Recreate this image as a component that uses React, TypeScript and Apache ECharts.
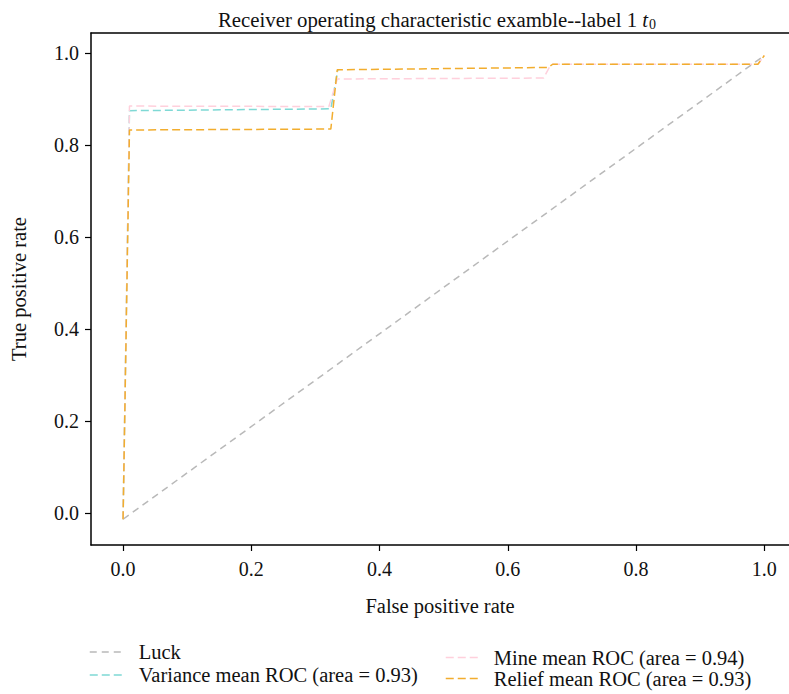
import React, { useEffect, useRef } from "react";
import * as echarts from "echarts";

const luckX = [0, 1];
const luckY = [-0.014, 0.995];
const varianceX = [0, 0.01, 0.324, 0.335];
const varianceY = [-0.014, 0.875, 0.879, 0.964];
const mineX = [0, 0.01, 0.321, 0.334, 0.656, 0.665, 0.67, 0.99, 1.0];
const mineY = [-0.014, 0.885, 0.884, 0.944, 0.946, 0.97, 0.976, 0.976, 0.995];
const reliefX = [0, 0.01, 0.324, 0.334, 0.663, 0.67, 0.99, 1.0];
const reliefY = [-0.014, 0.833, 0.835, 0.964, 0.969, 0.976, 0.976, 0.995];
const xTicks = [0, 0.2, 0.4, 0.6, 0.8, 1.0];
const yTicks = [0, 0.2, 0.4, 0.6, 0.8, 1.0];

const FONT = "Liberation Serif";

const zip = (xs: number[], ys: number[]) => xs.map((x, i) => [x, ys[i]]);

export default function App() {
  const ref = useRef<HTMLDivElement>(null);
  useEffect(() => {
    if (!ref.current) return;
    const chart = echarts.init(ref.current, null, { renderer: "svg" });
    const mk = (name: string, xs: number[], ys: number[], color: string, dash: number[]) => ({
      name,
      type: "line",
      data: zip(xs, ys),
      showSymbol: false,
      symbol: "none",
      lineStyle: { color, width: 1.5, type: dash },
      itemStyle: { color },
      z: 2,
    });
    const legendCommon = {
      orient: "vertical",
      padding: 0,
      height: 60,
      itemWidth: 34,
      itemHeight: 14,
      itemStyle: { opacity: 0, borderWidth: 0 },
      lineStyle: { width: 1.5 },
    };
    chart.setOption({
      animation: false,
      backgroundColor: "#ffffff",
      textStyle: { fontFamily: FONT },
      title: {
        text: "{a|Receiver operating characteristic examble--label 1 }{i|t}{s|0}",
        left: 432,
        textAlign: "center",
        top: 3,
        textStyle: {
          fontWeight: "normal",
          rich: {
            a: { fontFamily: FONT, fontSize: 20.8, fontWeight: "normal", color: "#111" },
            i: { fontFamily: FONT, fontSize: 20.8, fontStyle: "italic", fontWeight: "normal", color: "#111" },
            s: { fontFamily: FONT, fontSize: 14, fontWeight: "normal", color: "#111", padding: [9, 0, 0, 1] },
          },
        },
      },
      grid: { left: 90, right: 0, top: 33, bottom: 149, show: false },
      xAxis: [
        {
          type: "value",
          min: -0.05,
          max: 1.0385,
          name: "False positive rate",
          nameLocation: "middle",
          nameGap: 50,
          nameTextStyle: { fontFamily: FONT, fontSize: 20.5, color: "#111" },
          axisLine: { show: true, onZero: false, lineStyle: { color: "#000", width: 1.5 } },
          axisTick: { show: true, inside: false, length: 6, customValues: xTicks, lineStyle: { color: "#000", width: 1.2 } },
          axisLabel: {
            customValues: xTicks,
            formatter: (v: number) => v.toFixed(1),
            fontFamily: FONT,
            fontSize: 20,
            color: "#111",
            margin: 14,
          },
          splitLine: { show: false },
        },
        {
          type: "value",
          position: "top",
          min: -0.05,
          max: 1.0385,
          axisLine: { show: true, onZero: false, lineStyle: { color: "#000", width: 1.5 } },
          axisTick: { show: false },
          axisLabel: { show: false },
          splitLine: { show: false },
        },
      ],
      yAxis: {
        type: "value",
        min: -0.07,
        max: 1.044,
        name: "True positive rate",
        nameLocation: "middle",
        nameGap: 62,
        nameTextStyle: { fontFamily: FONT, fontSize: 20.5, color: "#111" },
        axisLine: { show: true, onZero: false, lineStyle: { color: "#000", width: 1.5 } },
        axisTick: { show: true, inside: false, length: 6, customValues: yTicks, lineStyle: { color: "#000", width: 1.2 } },
        axisLabel: {
          customValues: yTicks,
          formatter: (v: number) => v.toFixed(1),
          fontFamily: FONT,
          fontSize: 20,
          color: "#111",
          margin: 12,
        },
        splitLine: { show: false },
      },
      legend: [
        {
          ...legendCommon,
          data: ["Luck", "Variance mean ROC (area = 0.93)"],
          left: 89,
          top: 641,
          itemGap: 1,
          textStyle: { fontFamily: FONT, fontSize: 20.5, lineHeight: 22, color: "#111", padding: [0, 0, 0, 10] },
        },
        {
          ...legendCommon,
          data: ["Mine mean ROC (area = 0.94)", "Relief mean ROC (area = 0.93)"],
          left: 445,
          top: 647,
          itemGap: 0,
          textStyle: { fontFamily: FONT, fontSize: 20.5, lineHeight: 20, color: "#111", padding: [0, 0, 0, 9] },
        },
      ],
      series: [
        mk("Luck", luckX, luckY, "#b9b9b9", [7, 5]),
        mk("Variance mean ROC (area = 0.93)", varianceX, varianceY, "#7fd9d5", [8, 4]),
        mk("Mine mean ROC (area = 0.94)", mineX, mineY, "#ffd0dc", [8, 4]),
        mk("Relief mean ROC (area = 0.93)", reliefX, reliefY, "#f2ad2e", [8, 4]),
      ],
    });
    return () => chart.dispose();
  }, []);
  return <div ref={ref} style={{ width: 789, height: 694, position: "absolute", left: 0, top: 0 }} />;
}
